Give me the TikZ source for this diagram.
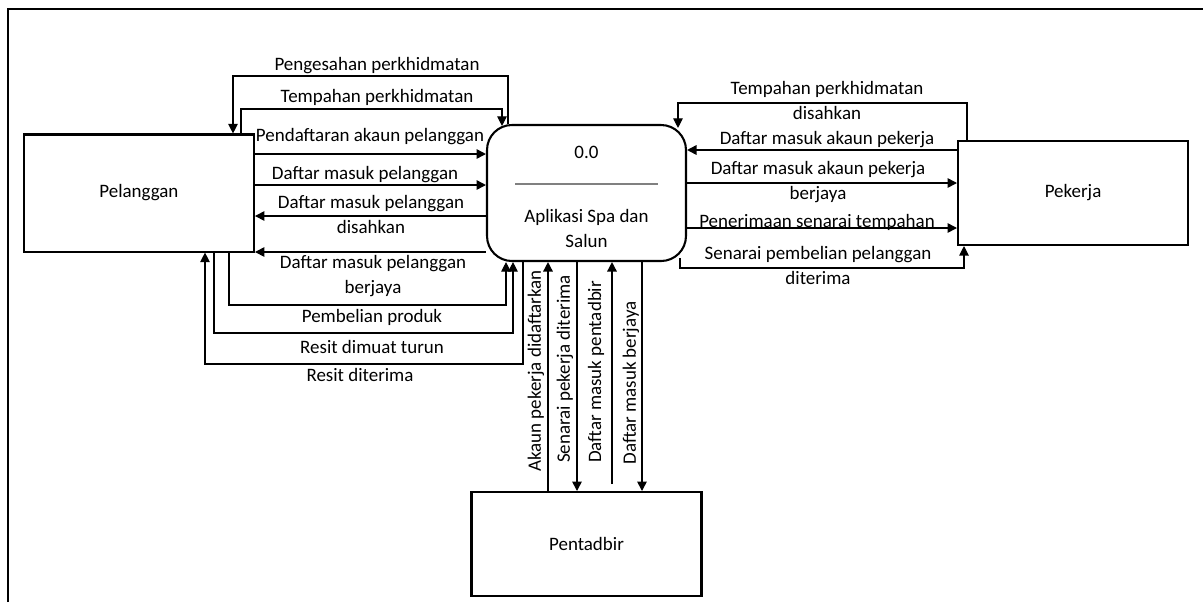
\documentclass[tikz,border=0pt]{standalone}
\usepackage{fontspec}
\setmainfont{Carlito}
\usetikzlibrary{arrows.meta,positioning,calc}
\tikzset{
	entity/.style={draw, line width=1.2pt, minimum width=133.4pt, minimum height=60.3pt, align=center},
	process/.style={draw, line width=1.2pt, rounded corners=14.5pt, minimum width=115.4pt, minimum height=78.9pt},
	arrow/.style={-{Triangle[length=5.5pt,width=5.5pt]}, line width=0.9pt},
	looparrow/.style={-{Triangle[length=5.5pt,width=5.5pt]}, line width=0.6pt},
	flowlabel/.style={align=center, inner sep=0pt},
	sidelabel/.style={inner sep=0pt, rotate=90}
}

\begin{document}
\begin{tikzpicture}[x=0.58pt, y=-0.58pt, font=\fontsize{11}{14.5}\selectfont]
	\useasboundingbox (0,0) rectangle (1203,602);
	\draw[line width=1.2pt] (8,602) -- (8,9) -- (1203,9);

	\node[process] (proc) at (586.5,193) {};
	\node[flowlabel] (procid) at (586.5,152) {0.0};
	\draw[gray, line width=0.8pt] (515,184) -- (658,184);
	\node[flowlabel] (procname) at (586.5,228) {Aplikasi Spa dan\\Salun};
	\node[entity, minimum height=67.9pt, left=134pt of proc] (pel) {Pelanggan};
	\node[entity, right=156.6pt of proc] (pek) {Pekerja};
	\node[entity, below=132.8pt of proc] (pen) {Pentadbir};

	% Pelanggan
	\draw[looparrow] (508,0 |- proc.north) |- (233,76) -- (233,0 |- pel.north);
	\draw[looparrow] (241,0 |- pel.north) |- (502,109) -- ($(502,0 |- proc.north)+(0,2)$);
	\draw[arrow] (pel.east |- 0,154) -- (proc.west |- 0,154);
	\draw[arrow] (pel.east |- 0,185) -- (proc.west |- 0,185);
	\draw[arrow] (proc.west |- 0,216) -- (pel.east |- 0,216);
	\draw[arrow] (proc.west |- 0,252) -- (pel.east |- 0,252);
	\draw[looparrow] (229,0 |- pel.south) |- (506,305) -- (506,0 |- proc.south);
	\draw[looparrow] (214,0 |- pel.south) |- (513,333) -- (513,0 |- proc.south);
	\draw[looparrow] (523,0 |- proc.south) |- (205,364) -- (205,0 |- pel.south);
	\node[flowlabel] (l1) at (377,66) {Pengesahan perkhidmatan};
	\node[flowlabel] (l2) at (377,97) {Tempahan perkhidmatan};
	\node[flowlabel] (l3) at (370,137) {Pendaftaran akaun pelanggan};
	\node[flowlabel] (l4) at (365,175) {Daftar masuk pelanggan};
	\node[flowlabel] (l5) at (371,214.5) {Daftar masuk pelanggan\\disahkan};
	\node[flowlabel] (l6) at (373,276.5) {Daftar masuk pelanggan\\berjaya};
	\node[flowlabel] (l7) at (372,317) {Pembelian produk};
	\node[flowlabel] (l8) at (372,347) {Resit dimuat turun};
	\node[flowlabel] (l9) at (360,375) {Resit diterima};

	% Pekerja
	\draw[looparrow] (967,0 |- pek.north) |- (678,103) -- ($(678,0 |- proc.north)+(0,4)$);
	\draw[arrow] (pek.west |- 0,150) -- (proc.east |- 0,150);
	\draw[arrow] (proc.east |- 0,183) -- (pek.west |- 0,183);
	\draw[arrow] (proc.east |- 0,228) -- (pek.west |- 0,228);
	\draw[looparrow] ($(680,0 |- proc.south)+(0,-4)$) |- (964,268) -- (964,0 |- pek.south);
	\node[flowlabel] (r1) at (827,100.5) {Tempahan perkhidmatan\\disahkan};
	\node[flowlabel] (r2) at (827,140) {Daftar masuk akaun pekerja};
	\node[flowlabel] (r3) at (818,182) {Daftar masuk akaun pekerja\\berjaya};
	\node[flowlabel] (r4) at (817,222) {Penerimaan senarai tempahan};
	\node[flowlabel] (r5) at (818,265.5) {Senarai pembelian pelanggan\\diterima};

	% Pentadbir
	\draw[arrow] (548,0 |- pen.north) -- (548,0 |- proc.south);
	\draw[arrow] (577,0 |- proc.south) -- (577,0 |- pen.north);
	\draw[arrow] ($(612,0 |- pen.north)+(0,-7)$) -- (612,0 |- proc.south);
	\draw[arrow] (642,0 |- proc.south) -- (642,0 |- pen.north);
	\node[sidelabel] (b1) at (536,371) {Akaun pekerja didaftarkan};
	\node[sidelabel] (b2) at (565,369) {Senarai pekerja diterima};
	\node[sidelabel] (b3) at (596,372) {Daftar masuk pentadbir};
	\node[sidelabel] (b4) at (631,383) {Daftar masuk berjaya};
\end{tikzpicture}
\end{document}
